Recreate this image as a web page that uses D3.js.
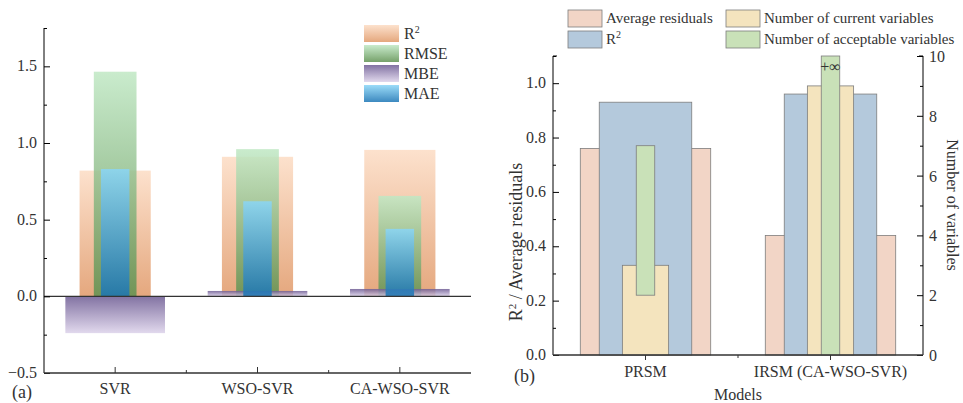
<!DOCTYPE html>
<html>
<head>
<meta charset="utf-8">
<script src="https://cdn.jsdelivr.net/npm/d3@7"></script>
<style>
  body { margin: 0; background: #fff; }
  svg text { font-family: "Times New Roman", "Liberation Serif", "DejaVu Serif", serif; fill: #333; }
</style>
</head>
<body>
<div id="chart"></div>
<script>
// panel (a) data
const modelsA = ["SVR", "WSO-SVR", "CA-WSO-SVR"];
const r2A = [0.82, 0.91, 0.955];
const rmseA = [1.465, 0.96, 0.655];
const mbeA = [-0.24, 0.035, 0.048];
const maeA = [0.83, 0.62, 0.44];
const ticksA = [-0.5, 0, 0.5, 1.0, 1.5];

// panel (b) data
const modelsB = ["PRSM", "IRSM (CA-WSO-SVR)"];
const residB = [0.76, 0.44];
const r2B = [0.93, 0.96];
const currentVars = [3, 9];
const acceptLow = [2, 0];
const acceptHigh = [7, Infinity];
const ticksBL = [0, 0.2, 0.4, 0.6, 0.8, 1.0];
const ticksBR = [0, 2, 4, 6, 8, 10];

const width = 963, height = 403;
const svg = d3.select("#chart").append("svg")
  .attr("width", width).attr("height", height);

const defs = svg.append("defs");
function grad(id, top, bottom) {
  const g = defs.append("linearGradient").attr("id", id)
    .attr("x1", 0).attr("y1", 0).attr("x2", 0).attr("y2", 1);
  g.append("stop").attr("offset", "0%").attr("stop-color", top);
  g.append("stop").attr("offset", "100%").attr("stop-color", bottom);
}
grad("gR2", "#fcdcc4", "#e09867");
grad("gRMSE", "#c0e8c4", "#5e9150");
grad("gMBE", "#6c5a92", "#dcd2ea");
grad("gMAE", "#8ad6f7", "#1a74b4");

// ---------- panel (a) ----------
const xA = d3.scaleBand().domain(modelsA).range([44, 471]);
const yA = d3.scaleLinear().domain([-0.5, 1.75]).range([373, 28]);

const seriesA = [
  {name: "R\u00b2", vals: r2A, w: 0.5, fill: "url(#gR2)"},
  {name: "RMSE", vals: rmseA, w: 0.3, fill: "url(#gRMSE)"},
  {name: "MBE", vals: mbeA, w: 0.7, fill: "url(#gMBE)"},
  {name: "MAE", vals: maeA, w: 0.2, fill: "url(#gMAE)"}
];

const gA = svg.append("g");
seriesA.forEach(s => {
  gA.append("g").selectAll("rect")
    .data(modelsA)
    .enter().append("rect")
      .attr("x", d => xA(d) + xA.bandwidth() * (1 - s.w) / 2)
      .attr("width", xA.bandwidth() * s.w)
      .attr("y", (d, i) => yA(Math.max(0, s.vals[i])))
      .attr("height", (d, i) => Math.abs(yA(s.vals[i]) - yA(0)))
      .attr("fill", s.fill)
      .attr("opacity", 0.85);
});

// zero line
gA.append("line")
  .attr("x1", 44).attr("x2", 471)
  .attr("y1", yA(0)).attr("y2", yA(0))
  .attr("stroke", "#333").attr("stroke-width", 1.3);

// y axis (a)
const yAxisA = gA.append("g").attr("transform", "translate(44,0)")
  .call(d3.axisRight(yA).tickValues(d3.range(-0.5, 1.76, 0.25)).tickSize(5).tickFormat(""));
yAxisA.selectAll(".tick line").attr("x2", (d) => ticksA.some(t => Math.abs(t - d) < 1e-6) ? 6 : 3);
yAxisA.select(".domain").attr("d", `M0,${yA(1.75)}V${yA(-0.5)}`);
gA.selectAll("text.ylab").data(ticksA).enter().append("text")
  .attr("x", 37).attr("y", d => yA(d) + 5)
  .attr("text-anchor", "end").style("font-size", "16px")
  .text(d => d3.format(".1f")(d));

// x axis (a)
const xAxisA = gA.append("g").attr("transform", `translate(0,${yA(-0.5)})`);
xAxisA.append("line").attr("x1", 44).attr("x2", 471).attr("stroke", "#333").attr("stroke-width", 1.3);
xAxisA.selectAll("line.tk").data(modelsA).enter().append("line")
  .attr("x1", d => xA(d) + xA.bandwidth() / 2).attr("x2", d => xA(d) + xA.bandwidth() / 2)
  .attr("y1", 0).attr("y2", -6).attr("stroke", "#333");
xAxisA.selectAll("line.mn").data(modelsA.slice(1)).enter().append("line")
  .attr("x1", d => xA(d)).attr("x2", d => xA(d))
  .attr("y1", 0).attr("y2", -3).attr("stroke", "#333");
xAxisA.selectAll("text").data(modelsA).enter().append("text")
  .attr("x", d => xA(d) + xA.bandwidth() / 2).attr("y", 21)
  .attr("text-anchor", "middle").style("font-size", "16px")
  .text(d => d);
svg.append("text").attr("x", 12).attr("y", 398).style("font-size", "18px").text("(a)");

// legend (a)
const legA = svg.append("g").attr("transform", "translate(364,25)");
seriesA.forEach((s, i) => {
  legA.append("rect").attr("x", 0).attr("y", i * 20).attr("width", 35).attr("height", 17)
    .attr("fill", s.fill).attr("opacity", 0.85);
  const t = legA.append("text").attr("x", 40).attr("y", i * 20 + 14).style("font-size", "16px");
  if (i === 0) {
    t.text("R");
    t.append("tspan").attr("dy", -6).style("font-size", "10px").text("2");
  } else t.text(s.name);
});

// ---------- panel (b) ----------
const xB = d3.scaleBand().domain(modelsB).range([553, 923]);
const yBL = d3.scaleLinear().domain([0, 1.1]).range([355, 56]);
const yBR = d3.scaleLinear().domain([0, 10]).range([355, 56]).clamp(true);

const gB = svg.append("g");
const stroke = "#7d7d7d";

function barsB(vals, w, scale, fill, lows) {
  gB.append("g").selectAll("rect")
    .data(modelsB)
    .enter().append("rect")
      .attr("x", d => xB(d) + xB.bandwidth() * (1 - w) / 2)
      .attr("width", xB.bandwidth() * w)
      .attr("y", (d, i) => scale(vals[i]))
      .attr("height", (d, i) => scale(lows ? lows[i] : 0) - scale(vals[i]))
      .attr("fill", fill).attr("stroke", stroke).attr("stroke-width", 0.8);
}
barsB(residB, 0.705, yBL, "#f2d5c6");
barsB(r2B, 0.5, yBL, "#b4c9dc");
barsB(currentVars, 0.25, yBR, "#f4e4be");
barsB(acceptHigh, 0.1, yBR, "#c9e1b8", acceptLow);

gB.append("text")
  .attr("x", xB(modelsB[1]) + xB.bandwidth() / 2).attr("y", 72)
  .attr("text-anchor", "middle").style("font-size", "16px")
  .text("+\u221e");

// left axis (b)
const yAxisBL = gB.append("g").attr("transform", "translate(553,0)")
  .call(d3.axisRight(yBL).tickValues(d3.range(0, 1.11, 0.1)).tickSize(3).tickFormat(""));
yAxisBL.selectAll(".tick line").attr("x2", d => ticksBL.some(t => Math.abs(t - d) < 1e-6) ? 6 : 3);
yAxisBL.select(".domain").attr("d", `M4,56H0V355`);
gB.selectAll("text.yl").data(ticksBL).enter().append("text")
  .attr("x", 546).attr("y", d => yBL(d) + 5)
  .attr("text-anchor", "end").style("font-size", "16px")
  .text(d => d3.format(".1f")(d));

// right axis (b)
const yAxisBR = gB.append("g").attr("transform", "translate(923,0)")
  .call(d3.axisLeft(yBR).tickValues(d3.range(0, 11, 1)).tickSize(3).tickFormat(""));
yAxisBR.selectAll(".tick line").attr("x2", d => d % 2 === 0 ? -6 : -3);
yAxisBR.select(".domain").attr("d", `M-4,56H0V355`);
gB.selectAll("text.yr").data(ticksBR).enter().append("text")
  .attr("x", 929).attr("y", d => yBR(d) + 6)
  .attr("text-anchor", "start").style("font-size", "16px")
  .text(d => d);

// x axis (b)
const xAxisB = gB.append("g").attr("transform", "translate(0,355)");
xAxisB.append("line").attr("x1", 553).attr("x2", 923).attr("stroke", "#333").attr("stroke-width", 1.3);
xAxisB.selectAll("line.tk").data(modelsB).enter().append("line")
  .attr("x1", d => xB(d) + xB.bandwidth() / 2).attr("x2", d => xB(d) + xB.bandwidth() / 2)
  .attr("y1", 0).attr("y2", 5).attr("stroke", "#333");
xAxisB.append("line").attr("x1", xB(modelsB[1])).attr("x2", xB(modelsB[1]))
  .attr("y1", 0).attr("y2", 3).attr("stroke", "#333");
xAxisB.selectAll("text").data(modelsB).enter().append("text")
  .attr("x", d => xB(d) + xB.bandwidth() / 2).attr("y", 22)
  .attr("text-anchor", "middle").style("font-size", "16px")
  .text(d => d);
svg.append("text").attr("x", 514).attr("y", 382).style("font-size", "18px").text("(b)");
svg.append("text").attr("x", 738).attr("y", 400).attr("text-anchor", "middle")
  .style("font-size", "16px").text("Models");

// axis titles (b)
const tl = svg.append("text").attr("transform", "translate(522,242) rotate(-90)")
  .attr("text-anchor", "middle").style("font-size", "18px");
tl.append("tspan").text("R");
tl.append("tspan").attr("dy", -6).style("font-size", "11px").text("2");
tl.append("tspan").attr("dy", 6).text(" / Average residuals");
svg.append("text").attr("transform", "translate(947,205) rotate(90)")
  .attr("text-anchor", "middle").style("font-size", "16px").text("Number of variables");

// legend (b)
const legB = [
  {name: "Average residuals", fill: "#f2d5c6", x: 568, y: 10},
  {name: "R2", fill: "#b4c9dc", x: 568, y: 31},
  {name: "Number of current variables", fill: "#f4e4be", x: 726, y: 10},
  {name: "Number of acceptable variables", fill: "#c9e1b8", x: 726, y: 31}
];
legB.forEach(l => {
  svg.append("rect").attr("x", l.x).attr("y", l.y).attr("width", 34).attr("height", 17)
    .attr("fill", l.fill).attr("stroke", stroke).attr("stroke-width", 0.8);
  const t = svg.append("text").attr("x", l.x + 38).attr("y", l.y + 13).style("font-size", "15px");
  if (l.name === "R2") {
    t.text("R");
    t.append("tspan").attr("dy", -6).style("font-size", "10px").text("2");
  } else t.text(l.name);
});
</script>
</body>
</html>
